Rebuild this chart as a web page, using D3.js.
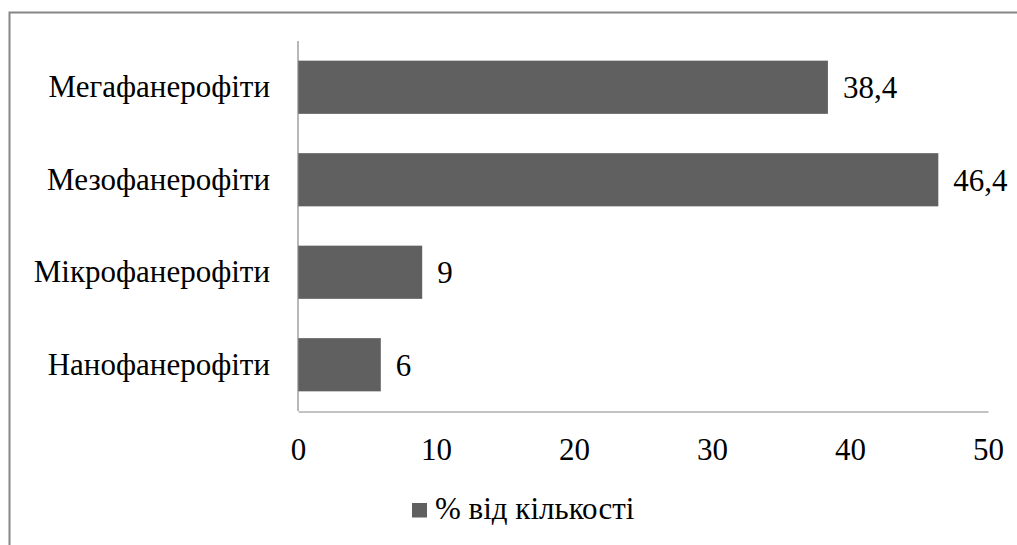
<!DOCTYPE html>
<html><head><meta charset="utf-8">
<script src="https://cdn.jsdelivr.net/npm/d3@7"></script>
<style>body{margin:0;background:#fff}svg{display:block}
svg text{font-family:"Liberation Serif","Times New Roman",serif !important;font-size:31px !important;fill:#000}
</style>
</head><body>
<svg id="c" width="1017" height="545"></svg>
<script>
const categories = ["Мегафанерофіти","Мезофанерофіти","Мікрофанерофіти","Нанофанерофіти"];
const values = [38.4, 46.4, 9, 6];
const valueLabels = ["38,4","46,4","9","6"];
const xTicks = [0,10,20,30,40,50];
const legendLabel = "% від кількості";

const svg = d3.select("#c");
svg.append("rect").attr("x",9.5).attr("y",12.5).attr("width",1100).attr("height",600)
  .attr("fill","#fff").attr("stroke","#868686").attr("stroke-width",2);

const x = d3.scaleLinear().domain([0,50]).range([298,988]);
const y = d3.scaleBand().domain(categories).range([41,411]).paddingInner(0.425).paddingOuter(0.2125);

const g = svg.append("g");
g.selectAll("rect.bar").data(values).join("rect").attr("class","bar")
  .attr("x",x(0)).attr("y",(d,i)=>y(categories[i]))
  .attr("width",d=>x(d)-x(0)).attr("height",y.bandwidth()).attr("fill","#606060");

g.selectAll("text.val").data(values).join("text").attr("class","val")
  .attr("x",d=>x(d)+15).attr("y",(d,i)=>y(categories[i])+y.bandwidth()/2)
  .attr("dy","0.35em")
  .text((d,i)=>valueLabels[i]);

// y axis
const ya = g.append("g").attr("transform",`translate(${x(0)},0)`)
  .call(d3.axisLeft(y).tickSize(0).tickPadding(28));
ya.select(".domain").remove();
ya.append("line").attr("x1",0).attr("x2",0).attr("y1",41).attr("y2",411).attr("stroke","#888").attr("stroke-width",1.2);

// x axis
const xa = g.append("g").attr("transform",`translate(0,411.5)`)
  .call(d3.axisBottom(x).tickValues(xTicks).tickSize(0).tickPadding(26).tickFormat(d3.format("d")));
xa.select(".domain").attr("stroke","#888").attr("stroke-width",1.2);

// legend
const lg = svg.append("g");
lg.append("rect").attr("x",412).attr("y",503).attr("width",15).attr("height",14.5).attr("fill","#606060");
lg.append("text").attr("x",435).attr("y",519).text(legendLabel);
</script>
</body></html>
